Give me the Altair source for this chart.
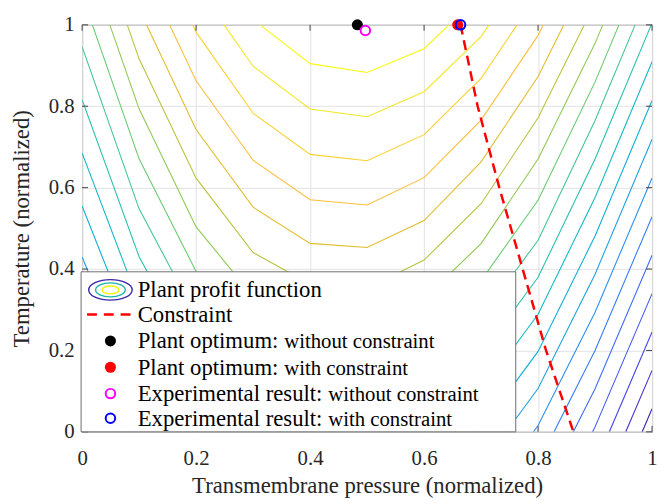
import altair as alt
import numpy as np
import pandas as pd

# ---------------- data ----------------
# profit surface sampled on the x grid, at y = 0, 0.5 and 1 (normalized units)
X_GRID = [0.0, 0.1, 0.2, 0.3, 0.4, 0.5, 0.6, 0.7, 0.8, 0.9, 1.0]
Z_TOP = [-7.59, -4.32, -1.85, -0.12, 0.855, 1.08, 0.555, -0.72, -2.745, -5.52, -9.05]
Z_MID = [-11.42, -8.39, -6.03, -4.45, -3.63, -3.53, -4.18, -5.59, -7.68, -10.8, -14.3]
Z_BOT = [-15.55, -12.77, -10.6, -9.08, -8.63, -8.53, -9.44, -11.08, -13.17, -16.13, -19.6]
LEVELS = [-19, -18, -17, -16, -15, -14, -13, -12, -11, -10,
          -9, -8, -7, -6, -5, -4, -3, -2, -1, 0]

CON_X = [0.664, 0.694, 0.732, 0.773, 0.814, 0.862]
CON_Y = [1.0, 0.8, 0.6, 0.4, 0.2, 0.0]

PT_NAME = ["Plant optimum: without constraint", "Plant optimum: with constraint",
           "Experimental result: without constraint", "Experimental result: with constraint"]
PT_X = [0.483, 0.659, 0.497, 0.664]
PT_Y = [1.0, 1.0, 0.986, 1.0]
PT_COLOR = ["#000000", "#ff0000", "#ff00ff", "#0000ff"]
PT_FILLED = [True, True, False, False]

TICKS = [0, 0.2, 0.4, 0.6, 0.8, 1]

LEG_MAIN = ["Plant profit function", "Constraint", "Plant optimum:", "Plant optimum:",
            "Experimental result:", "Experimental result:"]
LEG_SUB = ["", "", "without constraint", "with constraint",
           "without constraint", "with constraint"]

# parula colour map stops
PARULA_POS = [0.0, 0.111, 0.222, 0.333, 0.444, 0.556, 0.667, 0.778, 0.833, 0.889, 0.944, 1.0]
PARULA = ['#3e26a8', '#4747eb', '#3e6fff', '#2796eb', '#08b5d0', '#31c69f',
          '#81cc59', '#dcbd29', '#fdbb3c', '#fccf30', '#f3e626', '#f9fb0e']

# ---------------- contour extraction (linear interpolation on grid) ----------------
n = len(X_GRID)


def col_y(i, L):
    zb, zm, zt = Z_BOT[i], Z_MID[i], Z_TOP[i]
    if L <= zm:
        return 0.5 * (L - zb) / (zm - zb)
    return 0.5 + 0.5 * (L - zm) / (zt - zm)


def edge_x(i, L, zrow):
    return X_GRID[i] + (X_GRID[i + 1] - X_GRID[i]) * (L - zrow[i]) / (zrow[i + 1] - zrow[i])


def side(y):
    if y > 1:
        return 1
    if y < 0:
        return -1
    return 0


segments = []
for L in LEVELS:
    ys = [col_y(i, L) for i in range(n)]
    cur = None
    for i in range(n):
        s = side(ys[i])
        if i > 0:
            sp = side(ys[i - 1])
            if sp == 0 and s != 0:
                zrow = Z_TOP if s == 1 else Z_BOT
                cur.append((edge_x(i - 1, L, zrow), 1.0 if s == 1 else 0.0))
                segments.append((L, cur))
                cur = None
            elif sp != 0 and s == 0:
                zrow = Z_TOP if sp == 1 else Z_BOT
                cur = [(edge_x(i - 1, L, zrow), 1.0 if sp == 1 else 0.0)]
            elif sp != 0 and s != 0 and sp != s:
                segments.append((L, [(edge_x(i - 1, L, Z_TOP), 1.0),
                                     (edge_x(i - 1, L, Z_BOT), 0.0)]))
        if s == 0:
            if cur is None:
                cur = []
            cur.append((X_GRID[i], ys[i]))
    if cur:
        segments.append((L, cur))

rows = []
for k, (L, pts) in enumerate(segments):
    for j, (px, py) in enumerate(pts):
        rows.append({"level": L, "seg": k, "ord": j, "x": px, "y": py})
contours = pd.DataFrame(rows)

# colours spread over the contour levels (lowest level dark blue, highest yellow)
lo, hi = min(LEVELS), max(LEVELS)
cdomain = [lo + p * (hi - lo) for p in PARULA_POS]

constraint = pd.DataFrame({"x": CON_X, "y": CON_Y, "o": list(range(len(CON_X)))})
points = pd.DataFrame({"name": PT_NAME, "x": PT_X, "y": PT_Y, "col": PT_COLOR, "filled": PT_FILLED})
ticks = pd.DataFrame({"t": TICKS})

FONT = "Liberation Serif"
AX = "#262626"

# ---------------- layout (pixels inside the plot area) ----------------
W, H = 577, 412
ROW_Y = [268.3, 293.3, 320.0, 346.6, 373.3, 398.3]
ICON_X = 28.7
TEXT_X = 56.3
SUB_X = [0, 0, 204.6, 204.6, 249.2, 249.2]

x_axis = alt.Axis(values=TICKS, format="~g", title="Transmembrane pressure (normalized)",
                  grid=True, gridColor="#e2e2e2", domain=False, ticks=False,
                  labelFont=FONT, labelFontSize=21, labelColor=AX, labelPadding=16,
                  labelFlush=False, labelOverlap=False,
                  titleFont=FONT, titleFontSize=23, titleFontWeight="normal",
                  titleColor=AX, titlePadding=6)
y_axis = alt.Axis(values=TICKS, format="~g", title="Temperature (normalized)",
                  grid=True, gridColor="#e2e2e2", domain=False, ticks=False,
                  labelFont=FONT, labelFontSize=21, labelColor=AX, labelPadding=8,
                  labelFlush=False, labelOverlap=False,
                  titleFont=FONT, titleFontSize=23, titleFontWeight="normal",
                  titleColor=AX, titlePadding=15)
xs = alt.Scale(domain=[0, 1], nice=False, zero=False)
ys_ = alt.Scale(domain=[0, 1], nice=False, zero=False)


def X(f="x"):
    return alt.X(f"{f}:Q", scale=xs, axis=x_axis)


def Y(f="y"):
    return alt.Y(f"{f}:Q", scale=ys_, axis=y_axis)


contour_layer = alt.Chart(contours).mark_line(strokeWidth=1.1, clip=True).encode(
    x=X(), y=Y(),
    color=alt.Color("level:Q", scale=alt.Scale(domain=cdomain, range=PARULA, interpolate="rgb"),
                    legend=None),
    detail="seg:N",
    order="ord:Q",
)

constraint_layer = alt.Chart(constraint).mark_line(
    color="#ff0000", strokeWidth=2.5, strokeDash=[10, 6], clip=True
).encode(x=X(), y=Y(), order="o:Q")

# inward tick marks on all four sides
tick_col = "#404040"
tb = alt.Chart(ticks).mark_rule(color=tick_col, strokeWidth=1).encode(
    x=X("t"), y=alt.value(H), y2=alt.value(H - 6))
tt = alt.Chart(ticks).mark_rule(color=tick_col, strokeWidth=1).encode(
    x=X("t"), y=alt.value(0), y2=alt.value(6))
tl = alt.Chart(ticks).mark_rule(color=tick_col, strokeWidth=1).encode(
    y=Y("t"), x=alt.value(0), x2=alt.value(6))
tr = alt.Chart(ticks).mark_rule(color=tick_col, strokeWidth=1).encode(
    y=Y("t"), x=alt.value(W), x2=alt.value(W - 6))

point_layers = []
for i in range(len(PT_NAME)):
    d = points.iloc[[i]]
    if PT_FILLED[i]:
        m = alt.Chart(d).mark_point(filled=True, shape="circle", size=125, opacity=1,
                                    color=PT_COLOR[i], clip=False)
    else:
        m = alt.Chart(d).mark_point(filled=False, shape="circle", size=92, strokeWidth=2,
                                    opacity=1, color=PT_COLOR[i], clip=False)
    point_layers.append(m.encode(x=X(), y=Y()))

# ---------------- legend (drawn at pixel positions) ----------------
one = pd.DataFrame({"a": [0]})
leg_box = alt.Chart(one).mark_rect(
    fill="white", stroke="#6e6e6e", strokeWidth=1
).encode(x=alt.value(-1), x2=alt.value(439), y=alt.value(250), y2=alt.value(H))

ELL_PATH = "M -1 0 A 1 0.47 0 1 1 1 0 A 1 0.47 0 1 1 -1 0 Z"
ELL_W = [44, 30, 17]
ELL_C = ["#3e26a8", "#1fb5a8", "#f2f20a"]
leg_ell = [
    alt.Chart(one).mark_point(filled=False, strokeWidth=1.4, opacity=1, color=c,
                              shape=ELL_PATH, size=w * w).encode(
        x=alt.value(ICON_X), y=alt.value(ROW_Y[0]))
    for w, c in zip(ELL_W, ELL_C)
]

leg_dash = alt.Chart(one).mark_rule(
    color="#ff0000", strokeWidth=2.5, strokeDash=[10, 7]
).encode(x=alt.value(5), x2=alt.value(52), y=alt.value(ROW_Y[1]))

leg_marks = []
for i in range(len(PT_NAME)):
    if PT_FILLED[i]:
        m = alt.Chart(one).mark_point(filled=True, shape="circle", size=125, opacity=1,
                                      color=PT_COLOR[i])
    else:
        m = alt.Chart(one).mark_point(filled=False, shape="circle", size=92, strokeWidth=2,
                                      opacity=1, color=PT_COLOR[i])
    leg_marks.append(m.encode(x=alt.value(ICON_X), y=alt.value(ROW_Y[2 + i])))

leg_text = []
for i in range(len(LEG_MAIN)):
    leg_text.append(
        alt.Chart(pd.DataFrame({"t": [LEG_MAIN[i]]})).mark_text(
            font=FONT, fontSize=23, align="left", baseline="alphabetic", color="#000000"
        ).encode(x=alt.value(TEXT_X), y=alt.value(ROW_Y[i] + 7.5), text="t:N"))
    if LEG_SUB[i]:
        leg_text.append(
            alt.Chart(pd.DataFrame({"t": [LEG_SUB[i]]})).mark_text(
                font=FONT, fontSize=21, align="left", baseline="alphabetic", color="#000000"
            ).encode(x=alt.value(SUB_X[i]), y=alt.value(ROW_Y[i] + 7.5), text="t:N"))

chart = alt.layer(
    contour_layer, constraint_layer, tb, tt, tl, tr,
    leg_box, *leg_ell, leg_dash, *leg_marks, *leg_text,
    *point_layers,
).properties(
    width=W, height=H,
    padding={"left": 75, "top": 14, "right": 5, "bottom": 70},
    autosize=alt.AutoSizeParams(type="none"),
    background="white",
).configure_view(stroke="#404040", strokeWidth=1)

chart.save("out.html", embed_options={"renderer": "svg", "actions": False})
